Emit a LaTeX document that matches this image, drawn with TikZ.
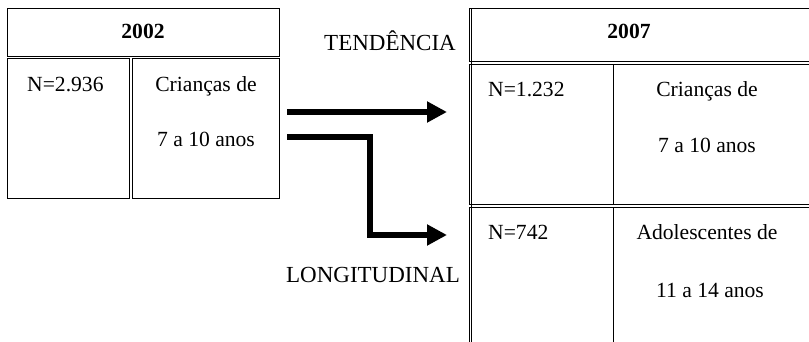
\documentclass[tikz,border=0pt]{standalone}
\usepackage{fontspec}
\setmainfont{Liberation Serif}
\usetikzlibrary{arrows.meta}

\tikzset{
  cell/.style={draw, line width=1pt},
  txt/.style={inner sep=0pt, font=\fontsize{21.6}{25}\selectfont},
  lbl/.style={inner sep=0pt, font=\fontsize{23}{27}\selectfont},
  bigarrow/.style={line width=6pt, -{Triangle[length=20pt,width=20pt]}},
}

\begin{document}
\begin{tikzpicture}[x=1pt, y=-1pt]

  \useasboundingbox (0,0) rectangle (809,342);
  \clip (0,0) rectangle (809,342);

  \begin{scope}
    \draw[cell] (7,9) rectangle (279,57);
    \draw[cell] (7,59) rectangle (129,199);
    \draw[cell] (132,59) rectangle (279,199);

    \node[txt, anchor=base, font=\fontsize{21.6}{25}\selectfont\bfseries] (y1) at (143,39) {2002};
    \node[txt, anchor=base west] (n1) at (27,92) {N=2.936};
    \node[txt, anchor=base] (g1) at (206,92) {Crianças de};
    \node[txt, anchor=base] (a1) at (206,147) {7 a 10 anos};
  \end{scope}

  \begin{scope}
    \node[lbl, anchor=base] (tend) at (390,51) {TENDÊNCIA};
    \node[lbl, anchor=base] (long) at (373,282) {LONGITUDINAL};

    \coordinate (t1) at (287,112);
    \coordinate (t2) at (447,112);
    \coordinate (l1) at (287,137);
    \coordinate (l2) at (370,137);
    \coordinate (l3) at (370,235);
    \coordinate (l4) at (447,235);

    % Arrow pointing right
    \draw[bigarrow] (t1) -- (t2);
    % Arrow going down and then right
    \draw[bigarrow] (l1) -- (l2) -- (l3) -- (l4);
  \end{scope}

  \begin{scope}
    \draw[cell] (469,9) rectangle (840,62);
    \draw[cell] (469,65) rectangle (840,204);
    \draw[cell] (469,207) rectangle (840,400);
    \draw[cell] (471.5,9) -- (471.5,400);
    \draw[cell] (613,65) -- (613,204);
    \draw[cell] (613,207) -- (613,400);

    \node[txt, anchor=base, font=\fontsize{21.6}{25}\selectfont\bfseries] (y2) at (629,39) {2007};
    \node[txt, anchor=base west] (n2) at (488,97) {N=1.232};
    \node[txt, anchor=base] (g2) at (707,97) {Crianças de};
    \node[txt, anchor=base] (a2) at (707,153) {7 a 10 anos};
    \node[txt, anchor=base west] (n3) at (488,240) {N=742};
    \node[txt, anchor=base] (g3) at (707,240) {Adolescentes de};
    \node[txt, anchor=base] (a3) at (710,297) {11 a 14 anos};
  \end{scope}

\end{tikzpicture}
\end{document}
